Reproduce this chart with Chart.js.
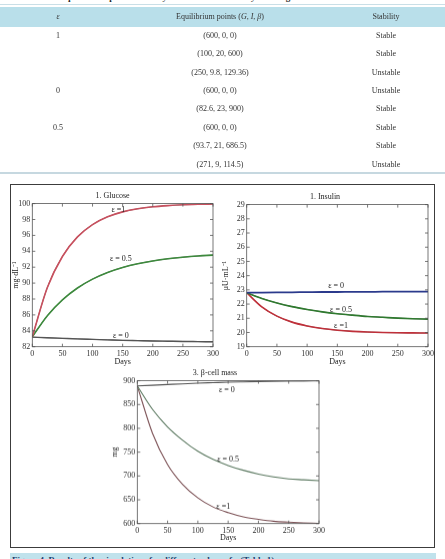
<!DOCTYPE html>
<html>
<head>
<meta charset="utf-8">
<script src="https://cdn.jsdelivr.net/npm/chart.js@4.4.1/dist/chart.umd.min.js"></script>
<style>
body{margin:0;width:445px;height:559px;position:relative;overflow:hidden;background:#fff;font-family:"Liberation Serif",serif;color:#333}
.abs{position:absolute}
.cell{position:absolute;width:200px;text-align:center;font-size:8px;line-height:10px;height:10px;white-space:nowrap;color:#333;opacity:0.999;will-change:transform}
canvas{position:absolute}
</style>
</head>
<body>
<div class="abs" style="left:12px;top:-8px;font-size:9px;font-weight:bold;color:#222;white-space:nowrap">Table 1. The equilibrium points of the system and their stability for the given ε.</div>
<div class="abs" style="left:0;top:4px;width:445px;height:1px;background:#c9dfe7"></div>
<div class="abs" style="left:0;top:7px;width:445px;height:20px;background:#b9dfea"></div>
<div class="abs" style="left:0;top:172px;width:445px;height:2px;background:#c6d8e0"></div>
<div id="table"></div>

<div class="abs" style="left:10px;top:184px;width:423px;height:362px;border:1.5px solid #3c3c3c"></div>
<div class="abs" style="left:10px;top:553px;width:426px;height:6px;background:#c0e2ec"></div>
<div class="abs" style="left:12px;top:555px;font-size:9px;font-weight:bold;color:#1c3d6e;white-space:nowrap">Figure 4. Results of the simulations for different values of ε (Table 1).</div>

<canvas id="glucose" style="left:11px;top:188.7px;width:210px;height:178.3px"></canvas>
<canvas id="insulin" style="left:221px;top:189.7px;width:215px;height:177.3px"></canvas>
<canvas id="beta" style="left:110px;top:366.4px;width:217px;height:176.4px"></canvas>

<script>
// TABLE DATA
const tableHead = ["<i>ε</i>", "Equilibrium points (<i>G</i>, <i>I</i>, <i>β</i>)", "Stability"];
const epsCol = ["1", "", "", "0", "", "0.5", "", ""];
const pointsCol = ["(600, 0, 0)", "(100, 20, 600)", "(250, 9.8, 129.36)", "(600, 0, 0)", "(82.6, 23, 900)", "(600, 0, 0)", "(93.7, 21, 686.5)", "(271, 9, 114.5)"];
const stabilityCol = ["Stable", "Stable", "Unstable", "Unstable", "Stable", "Stable", "Stable", "Unstable"];

// CHART DATA
const days = [0, 25, 50, 75, 100, 125, 150, 175, 200, 225, 250, 275, 300];
const glucose1 = [83.25, 89.45, 93.35, 95.81, 97.36, 98.34, 98.96, 99.35, 99.6, 99.75, 99.85, 99.91, 99.95];
const glucose05 = [83.25, 85.9, 87.89, 89.38, 90.5, 91.34, 91.97, 92.44, 92.79, 93.06, 93.26, 93.41, 93.52];
const glucose0 = [83.2, 83.12, 83.05, 82.98, 82.92, 82.86, 82.8, 82.76, 82.72, 82.69, 82.66, 82.64, 82.62];
const insulin0 = [22.8, 22.81, 22.82, 22.83, 22.84, 22.85, 22.85, 22.86, 22.86, 22.87, 22.87, 22.87, 22.88];
const insulin05 = [22.8, 22.4, 22.08, 21.82, 21.62, 21.45, 21.32, 21.22, 21.13, 21.07, 21.01, 20.97, 20.94];
const insulin1 = [22.8, 21.8, 21.15, 20.73, 20.46, 20.28, 20.16, 20.08, 20.03, 20.0, 19.98, 19.97, 19.96];
const beta0 = [889, 890.5, 892, 893.5, 895, 896, 897, 897.7, 898.3, 898.8, 899.2, 899.5, 899.7];
const beta05 = [889, 840, 803, 775, 752, 735, 722, 712, 704, 698, 694, 692, 690];
const beta1 = [889, 790, 724, 682, 654, 635, 623, 614, 609, 605, 603, 601.5, 600.5];

// curve labels [day, value, text]
const glucoseLabels = [[143, 99.25, "ε =1"], [147, 93.1, "ε = 0.5"], [147, 83.35, "ε = 0"]];
const insulinLabels = [[148, 23.26, "ε = 0"], [156, 21.58, "ε = 0.5"], [156, 20.48, "ε =1"]];
const betaLabels = [[148, 881, "ε = 0"], [150, 734, "ε = 0.5"], [142, 636, "ε =1"]];

// build table
const rowTop = 35.7, rowStep = 18.43;
const colX = [57.7, 220, 386];
let html = "";
tableHead.forEach((h, i) => { html += `<div class="cell" style="left:${colX[i] - 100}px;top:12.3px">${h}</div>`; });
pointsCol.forEach((p, r) => {
    const y = rowTop + r * rowStep - 5;
    [epsCol[r], p, stabilityCol[r]].forEach((t, i) => {
        if (t) html += `<div class="cell" style="left:${colX[i] - 100}px;top:${y.toFixed(1)}px">${t}</div>`;
    });
});
document.getElementById("table").innerHTML = html;

const FONT = "Liberation Serif";

// box frame + inward ticks + curve labels
const framePlugin = {
    id: 'frame',
    afterDatasetsDraw(chart, args, o) {
        const { ctx, chartArea: a, scales: { x, y } } = chart;
        ctx.save();
        ctx.strokeStyle = '#555';
        ctx.lineWidth = 0.8;
        ctx.strokeRect(a.left, a.top, a.right - a.left, a.bottom - a.top);
        ctx.beginPath();
        x.ticks.forEach(t => {
            const px = x.getPixelForValue(t.value);
            ctx.moveTo(px, a.bottom); ctx.lineTo(px, a.bottom - 3);
            ctx.moveTo(px, a.top); ctx.lineTo(px, a.top + 3);
        });
        y.ticks.forEach(t => {
            const py = y.getPixelForValue(t.value);
            ctx.moveTo(a.left, py); ctx.lineTo(a.left + 3, py);
            ctx.moveTo(a.right, py); ctx.lineTo(a.right - 3, py);
        });
        ctx.stroke();
        ctx.fillStyle = '#222';
        ctx.font = `8px "${FONT}"`;
        ctx.textAlign = 'center';
        ctx.textBaseline = 'middle';
        (o.labels || []).forEach(l => {
            ctx.fillText(l[2], x.getPixelForValue(l[0]), y.getPixelForValue(l[1]));
        });
        ctx.restore();
    }
};

function series(vals, color, width, overlay) {
    const pts = days.map((d, i) => ({ x: d, y: vals[i] }));
    const out = [{ data: pts, borderColor: color, borderWidth: width, pointRadius: 0, cubicInterpolationMode: 'monotone', fill: false }];
    if (overlay) out.push({ data: pts, borderColor: overlay, borderWidth: 0.6, pointRadius: 0, cubicInterpolationMode: 'monotone', fill: false });
    return out;
}

function makeChart(id, title, yTitle, yMin, yMax, yStep, yWidth, xHeight, datasets, labels) {
    new Chart(document.getElementById(id), {
        type: 'line',
        data: { datasets: datasets },
        plugins: [framePlugin],
        options: {
            responsive: false,
            animation: false,
            devicePixelRatio: 1,
            layout: { padding: { right: 7, left: 0, top: 0, bottom: 0 } },
            plugins: {
                legend: { display: false },
                tooltip: { enabled: false },
                title: { display: true, text: title, color: '#222', font: { family: FONT, size: 8, weight: 'normal' }, padding: { top: 2, bottom: 3 } },
                frame: { labels: labels }
            },
            scales: {
                x: {
                    type: 'linear', min: 0, max: 300,
                    grid: { display: false, drawTicks: false }, border: { display: false },
                    ticks: { stepSize: 50, color: '#333', padding: 2, maxRotation: 0, font: { family: FONT, size: 8 } },
                    title: { display: true, text: 'Days', color: '#222', padding: 0, font: { family: FONT, size: 8 } },
                    afterFit(s) { s.height = xHeight; }
                },
                y: {
                    min: yMin, max: yMax,
                    grid: { display: false, drawTicks: false }, border: { display: false },
                    ticks: { stepSize: yStep, color: '#333', padding: 2, font: { family: FONT, size: 8 } },
                    title: { display: true, text: yTitle, color: '#222', padding: 0, font: { family: FONT, size: 8 } },
                    afterFit(s) { s.width = yWidth; }
                }
            }
        }
    });
}

// set canvas pixel sizes from their css sizes
document.querySelectorAll('canvas').forEach(c => {
    c.width = Math.round(parseFloat(c.style.width));
    c.height = Math.round(parseFloat(c.style.height));
});

makeChart('glucose', '1. Glucose', 'mg·dL⁻¹', 82, 100, 2, 21.3, 20.3,
    [].concat(series(glucose1, '#c8505e', 1.6, '#222'), series(glucose05, '#3d8a3d', 1.6, '#111'), series(glucose0, '#555', 1.4, '#222')),
    glucoseLabels);

makeChart('insulin', '1. Insulin', 'μU·mL⁻¹', 19, 29, 1, 25.7, 20.3,
    [].concat(series(insulin0, '#2b3a8c', 1.8, null), series(insulin05, '#2f7a2f', 1.6, '#111'), series(insulin1, '#c0303a', 1.6, '#222')),
    insulinLabels);

makeChart('beta', '3. β-cell mass', 'mg', 600, 900, 50, 27.3, 19.3,
    [].concat(series(beta0, '#555', 1.1, null), series(beta05, '#5d7a62', 1.1, null), series(beta1, '#7e5458', 1.1, null)),
    betaLabels);
</script>
</body>
</html>
